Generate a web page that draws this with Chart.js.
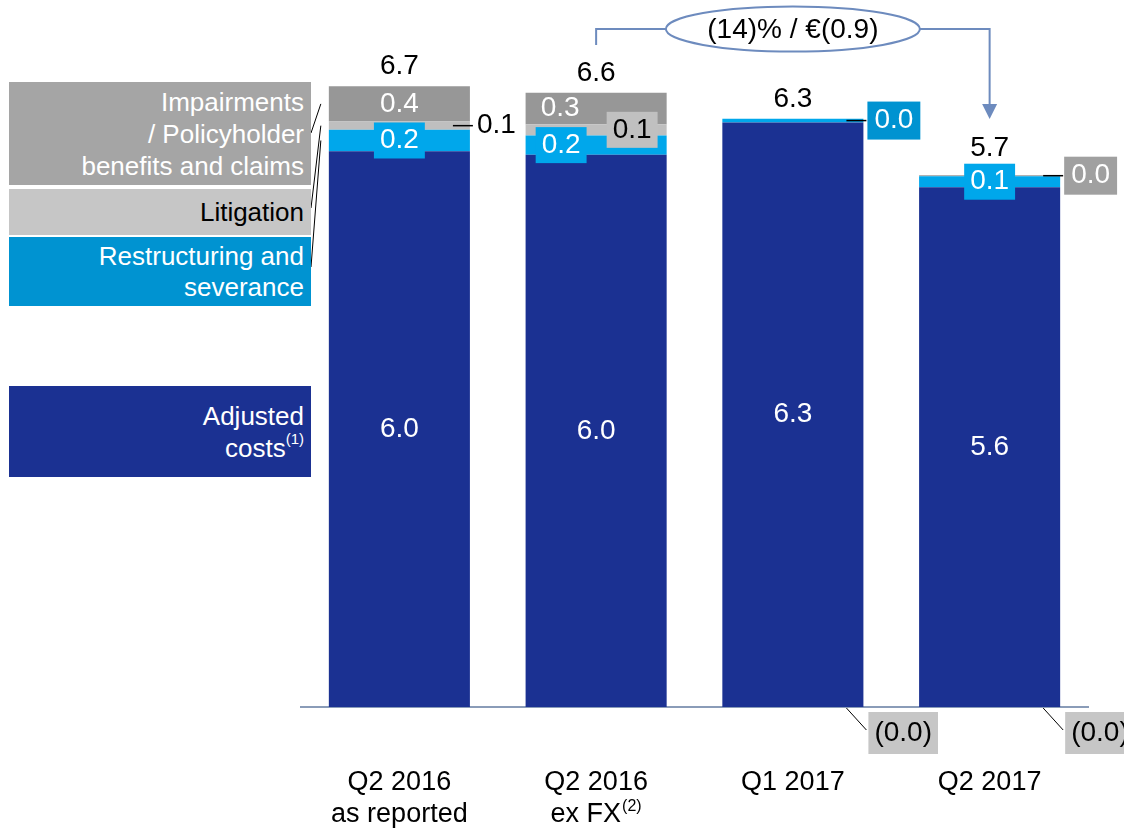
<!DOCTYPE html>
<html>
<head>
<meta charset="utf-8">
<script src="https://cdn.jsdelivr.net/npm/chart.js@4.4.0/dist/chart.umd.min.js"></script>
<style>
  html, body { margin: 0; padding: 0; background: #fff; }
  #wrap { position: relative; width: 1124px; height: 829px; font-family: Arial, "Liberation Sans", sans-serif; }
  #chart { position: absolute; left: 0; top: 0; }
  .key { position: absolute; left: 9px; width: 302px; box-sizing: border-box; padding-right: 7px;
         display: flex; align-items: center; justify-content: flex-end; text-align: right;
         font-size: 26px; line-height: 32px; }
  .key sup { font-size: 15px; line-height: 0; position: relative; top: -3px; vertical-align: super; }
</style>
</head>
<body>
<div id="wrap">
  <canvas id="chart" width="1124" height="829"></canvas>
  <div class="key" style="top:82px;height:103px;background:#A5A5A5;color:#fff"><div>Impairments<br>/ Policyholder<br>benefits and claims</div></div>
  <div class="key" style="top:189px;height:46px;background:#C6C6C6;color:#000"><div>Litigation</div></div>
  <div class="key" style="top:237px;height:69px;background:#0093D1;color:#fff;line-height:31px"><div>Restructuring and<br>severance</div></div>
  <div class="key" style="top:386px;height:91px;background:#1B3192;color:#fff"><div>Adjusted<br>costs<sup>(1)</sup></div></div>
</div>

<script>
// data (EUR bn)
var categories = [["Q2 2016", "as reported"], ["Q2 2016", "ex FX"], ["Q1 2017"], ["Q2 2017"]];
var categoryNotes = ["", "(2)", "", ""];
var adjustedCosts = [6.0, 5.96, 6.31, 5.61];
var restructuring = [0.23, 0.21, 0.04, 0.12];
var litigation = [0.09, 0.12, -0.004, -0.004];
var impairments = [0.38, 0.34, 0, 0.01];
var changeLabel = "(14)% / €(0.9)";

var colors = ["#1B3192", "#00A7EB", "#BFBFBF", "#979797"];

// how each segment label is placed (style only)
var labelStyle = [
    [{}, {}, {}, {}],
    [{ box: "#00A7EB" }, { box: "#00A7EB", dx: -35 }, { pos: "right", box: "#0093D1" }, { box: "#00A7EB" }],
    [{ pos: "right", color: "#000" }, { box: "#C0C0C0", color: "#000", dx: 36 }, { pos: "below" }, { pos: "below" }],
    [{}, { dx: -36 }, null, { pos: "right", box: "#A0A0A0" }]
];
var totalLift = [0, 0, 0, 7];

function fmt(v) {
    return v < 0 ? "(" + Math.abs(v).toFixed(1) + ")" : v.toFixed(1);
}

var FONT = "28px Arial, 'Liberation Sans', sans-serif";

var labelsPlugin = {
    id: "labels",
    afterDatasetsDraw: function (chart) {
        var ctx = chart.ctx;
        var area = chart.chartArea;
        var y = chart.scales.y;
        var x = chart.scales.x;
        ctx.save();
        ctx.font = FONT;

        chart.data.datasets.forEach(function (ds, d) {
            var meta = chart.getDatasetMeta(d);
            meta.data.forEach(function (el, i) {
                var st = labelStyle[d][i];
                if (!st) return;
                var text = fmt(ds.data[i]);
                var right = el.x + el.width / 2;
                var cy = (el.y + el.base) / 2;
                var fg = st.color || "#fff";
                var w = ctx.measureText(text).width;
                var pos = st.pos || "in";

                if (pos == "in") {
                    var cx = el.x + (st.dx || 0);
                    if (st.box) {
                        ctx.fillStyle = st.box;
                        ctx.fillRect(cx - w / 2 - 6, cy - 18, w + 12, 36);
                    }
                    ctx.fillStyle = fg;
                    ctx.textAlign = "center";
                    ctx.textBaseline = "middle";
                    ctx.fillText(text, cx, cy);
                } else if (pos == "right") {
                    ctx.strokeStyle = "#000";
                    ctx.lineWidth = 1.5;
                    ctx.beginPath();
                    ctx.moveTo(right - 17, cy);
                    ctx.lineTo(right + 3, cy);
                    ctx.stroke();
                    var tx = right + 7;
                    if (st.box) {
                        ctx.fillStyle = st.box;
                        ctx.fillRect(right + 4, cy - 19, w + 14, 38);
                        tx = right + 11;
                    }
                    ctx.fillStyle = fg;
                    ctx.textAlign = "left";
                    ctx.textBaseline = "middle";
                    ctx.fillText(text, tx, cy);
                } else if (pos == "below") {
                    var b = area.bottom;
                    ctx.strokeStyle = "#000";
                    ctx.lineWidth = 1;
                    ctx.beginPath();
                    ctx.moveTo(right - 17, b + 1);
                    ctx.lineTo(right + 3, b + 23);
                    ctx.stroke();
                    ctx.fillStyle = "#C6C6C6";
                    ctx.fillRect(right + 5, b + 5, w + 12, 42);
                    ctx.fillStyle = "#000";
                    ctx.textAlign = "left";
                    ctx.textBaseline = "middle";
                    ctx.fillText(text, right + 11, b + 26);
                }
            });
        });

        // totals above each bar
        categories.forEach(function (c, i) {
            var pos = 0, total = 0;
            chart.data.datasets.forEach(function (ds) {
                total += ds.data[i];
                if (ds.data[i] > 0) pos += ds.data[i];
            });
            ctx.fillStyle = "#000";
            ctx.textAlign = "center";
            ctx.textBaseline = "alphabetic";
            ctx.fillText(fmt(total), x.getPixelForValue(i), y.getPixelForValue(pos) - 12 - totalLift[i]);
        });

        // category labels with superscript notes
        categories.forEach(function (lines, i) {
            var cx = x.getPixelForValue(i);
            lines.forEach(function (line, k) {
                var by = 790 + k * 32;
                var last = k == lines.length - 1;
                ctx.font = "27px Arial, 'Liberation Sans', sans-serif";
                var w = ctx.measureText(line).width;
                var sw = 0;
                if (last && categoryNotes[i]) {
                    ctx.font = "16px Arial, 'Liberation Sans', sans-serif";
                    sw = ctx.measureText(categoryNotes[i]).width + 1;
                }
                var sx = cx - (w + sw) / 2;
                ctx.font = "27px Arial, 'Liberation Sans', sans-serif";
                ctx.textAlign = "left";
                ctx.fillStyle = "#000";
                ctx.fillText(line, sx, by);
                if (sw) {
                    ctx.font = "16px Arial, 'Liberation Sans', sans-serif";
                    ctx.fillText(categoryNotes[i], sx + w + 1, by - 11);
                }
            });
        });

        // leader lines from the key to the first bar
        var m1 = chart.getDatasetMeta(1).data[0];
        var m2 = chart.getDatasetMeta(2).data[0];
        var m3 = chart.getDatasetMeta(3).data[0];
        var ex = m1.x - m1.width / 2 - 8;
        ctx.strokeStyle = "#000";
        ctx.lineWidth = 1;
        [[133, m3], [208, m2], [267, m1]].forEach(function (p) {
            ctx.beginPath();
            ctx.moveTo(311, p[0]);
            ctx.lineTo(ex, (p[1].y + p[1].base) / 2);
            ctx.stroke();
        });

        // change bubble with connector arrow
        var x2 = x.getPixelForValue(1), x4 = x.getPixelForValue(3);
        var ecx = (x2 + x4) / 2, ecy = 29, rx = 127, ry = 22.5;
        ctx.strokeStyle = "#6D8BBE";
        ctx.lineWidth = 2;
        ctx.beginPath();
        ctx.moveTo(x2, 45);
        ctx.lineTo(x2, ecy);
        ctx.lineTo(ecx - rx, ecy);
        ctx.moveTo(ecx + rx, ecy);
        ctx.lineTo(x4, ecy);
        ctx.lineTo(x4, 106);
        ctx.stroke();
        ctx.fillStyle = "#6D8BBE";
        ctx.beginPath();
        ctx.moveTo(x4 - 7.5, 104);
        ctx.lineTo(x4 + 7.5, 104);
        ctx.lineTo(x4, 119);
        ctx.closePath();
        ctx.fill();
        ctx.fillStyle = "#fff";
        ctx.beginPath();
        ctx.ellipse(ecx, ecy, rx, ry, 0, 0, Math.PI * 2);
        ctx.fill();
        ctx.stroke();
        ctx.font = FONT;
        ctx.fillStyle = "#000";
        ctx.textAlign = "center";
        ctx.textBaseline = "middle";
        ctx.fillText(changeLabel, ecx, ecy + 1);

        ctx.restore();
    }
};

var ctx = document.getElementById("chart").getContext("2d");

new Chart(ctx, {
    type: "bar",
    data: {
        labels: categories,
        datasets: [
            { label: "Adjusted costs", data: adjustedCosts, backgroundColor: colors[0] },
            { label: "Restructuring and severance", data: restructuring, backgroundColor: colors[1] },
            { label: "Litigation", data: litigation, backgroundColor: colors[2] },
            { label: "Impairments / Policyholder benefits and claims", data: impairments, backgroundColor: colors[3] }
        ]
    },
    options: {
        responsive: false,
        animation: false,
        devicePixelRatio: 1,
        layout: { padding: { left: 301, right: 36, top: 58.5, bottom: 114 } },
        datasets: { bar: { barPercentage: 0.717, categoryPercentage: 1, borderWidth: 0 } },
        plugins: {
            legend: { display: false },
            tooltip: { enabled: false }
        },
        scales: {
            x: {
                stacked: true,
                grid: { display: false },
                ticks: { display: false },
                border: { display: true, color: "#8A9CB8", width: 2 }
            },
            y: {
                stacked: true,
                display: false,
                min: 0,
                max: 7
            }
        }
    },
    plugins: [labelsPlugin]
});
</script>
</body>
</html>
